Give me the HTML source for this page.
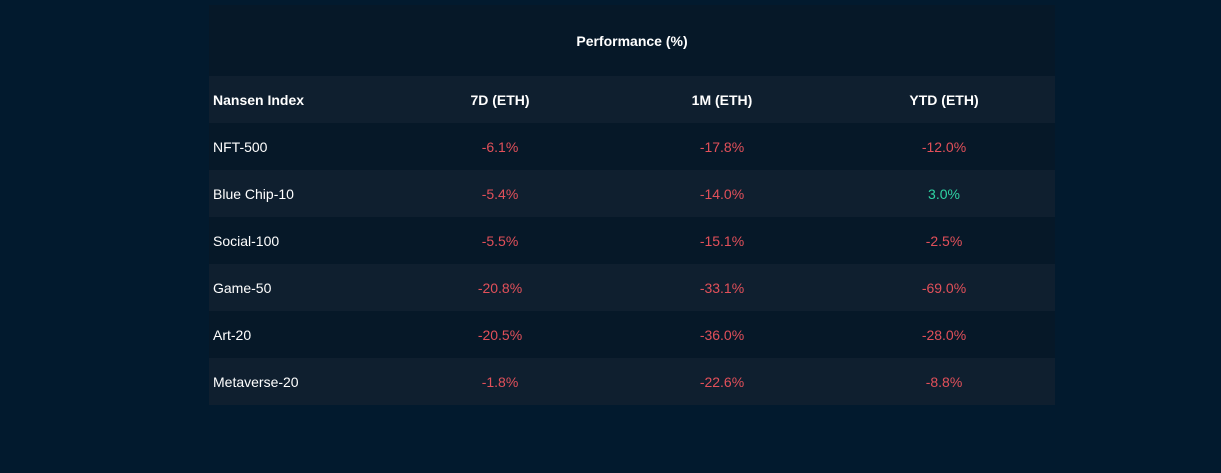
<!DOCTYPE html>
<html><head><meta charset="utf-8"><style>
html,body{margin:0;padding:0;width:1221px;height:473px;background:#021a2e;overflow:hidden;font-family:"Liberation Sans",Arial,sans-serif;}
#tbl{position:absolute;left:209px;top:5px;width:846px;}
.r{display:flex;height:47px;align-items:center;font-size:14px;}
.r div{box-sizing:border-box}
.c0{width:180px;padding-left:4px;color:#fff}
.c{width:222px;text-align:center}
.dark{background:#061828}
.light{background:#0f1f2f}
.neg{color:#e2505a}.pos{color:#2fd3a3}
.hd{font-weight:bold;color:#fff}
</style></head><body>
<div id="tbl">
<div class="r dark hd" style="height:71px;justify-content:center">Performance (%)</div>
<div class="r light hd">
<div class="c0">Nansen Index</div>
<div class="c">7D (ETH)</div>
<div class="c">1M (ETH)</div>
<div class="c">YTD (ETH)</div>
</div>
<div id="body"></div>
</div>
<script>
const names=["NFT-500","Blue Chip-10","Social-100","Game-50","Art-20","Metaverse-20"];
const d7=[-6.1,-5.4,-5.5,-20.8,-20.5,-1.8];
const m1=[-17.8,-14.0,-15.1,-33.1,-36.0,-22.6];
const ytd=[-12.0,3.0,-2.5,-69.0,-28.0,-8.8];
const body=document.getElementById('body');
names.forEach((n,i)=>{
 const r=document.createElement('div');
 r.className='r '+(i%2?'light':'dark');
 
 
 const c=document.createElement('div');c.className='c0';c.textContent=n;
 
 
 r.appendChild(c);
 [d7[i],m1[i],ytd[i]].forEach((v,j)=>{
  const e=document.createElement('div');
  e.className='c '+(v<0?'neg':'pos');
  e.textContent=v.toFixed(1)+'%';
  
  
  r.appendChild(e);
 });
 body.appendChild(r);
});
</script>
</body></html>
